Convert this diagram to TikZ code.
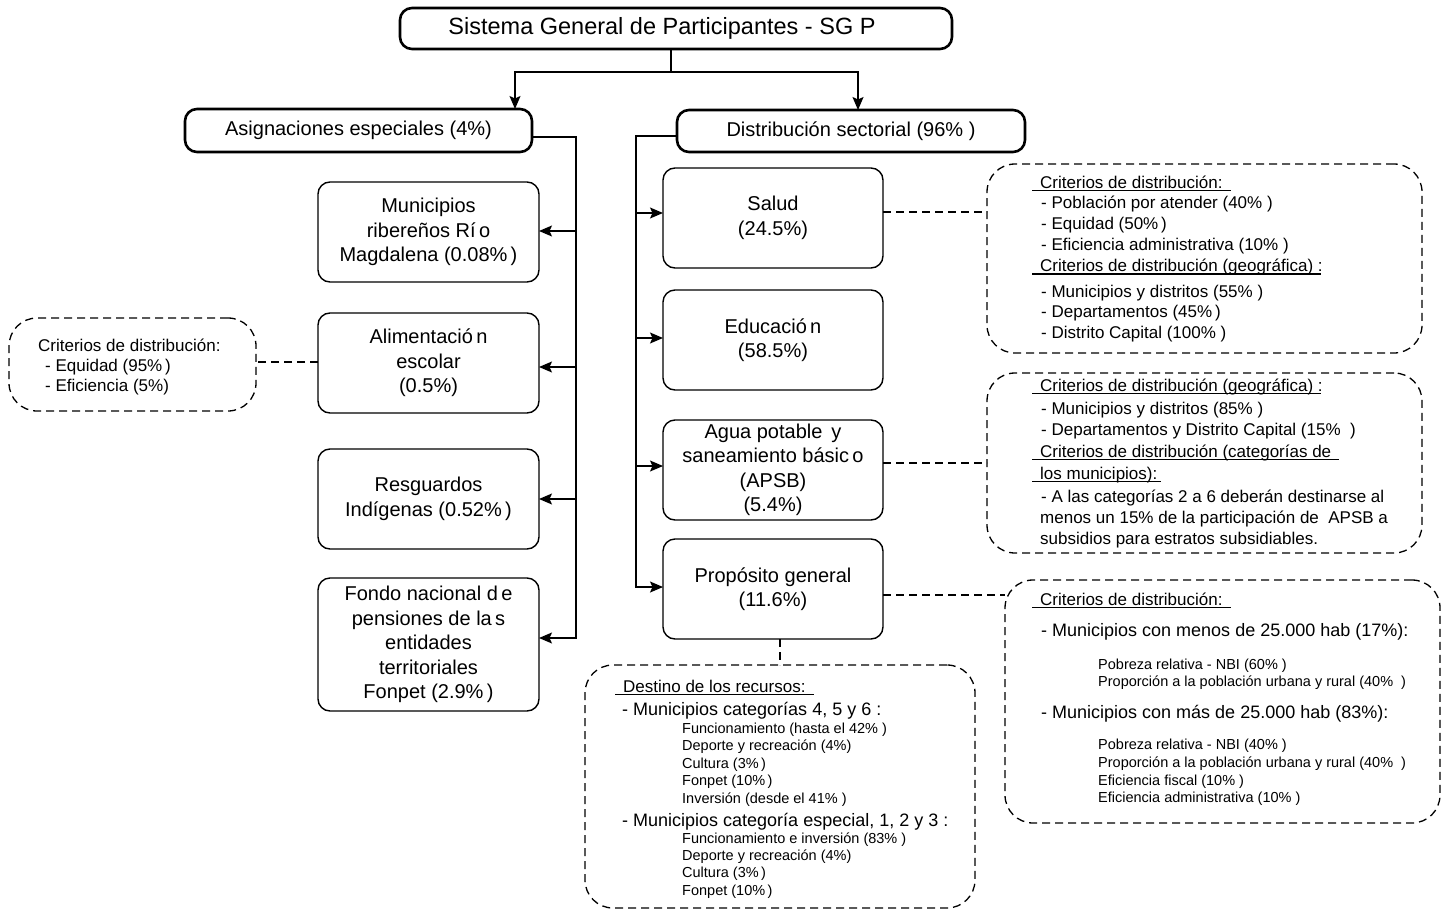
\documentclass[tikz,border=0pt]{standalone}
\usepackage{fontspec}
\setmainfont{Liberation Sans}
\usetikzlibrary{arrows.meta,calc}

% underlined heading: the rule runs a little past both ends of the text
\newsavebox\ulbox
\newcommand\ulh[1]{\sbox\ulbox{#1}\rlap{\kern-8pt\rule[-3pt]{\dimexpr\wd\ulbox+16pt\relax}{1.1pt}}\usebox\ulbox}

\tikzset{
  box/.style={draw, rounded corners=12pt, line width=1.4pt, align=center,
    font=\fontsize{20}{24.5}\selectfont, inner sep=0pt, outer sep=0pt},
  headbox/.style={box, line width=2.6pt},
  critbox/.style={draw, dash pattern=on 8pt off 5pt, rounded corners=28pt,
    line width=1.3pt, inner sep=0pt, outer sep=0pt},
  link/.style={line width=1.4pt, -{Stealth[length=13pt,width=11pt,inset=2.5pt]}},
  plain/.style={line width=1.4pt},
  dl/.style={line width=1.3pt, dash pattern=on 8pt off 5pt},
  tmid/.style={anchor=base west, inner sep=0pt, font=\fontsize{17}{20}\selectfont},
  tbig/.style={anchor=base west, inner sep=0pt, font=\fontsize{18}{21}\selectfont},
  tsmall/.style={anchor=base west, inner sep=0pt, font=\fontsize{14.5}{17}\selectfont},
}

\begin{document}
\begin{tikzpicture}[x=1pt, y=-1pt]
\fill[white] (0,0) rectangle (1448,910);
\useasboundingbox (0,0) rectangle (1448,910);

% ---- top level
\node[headbox, minimum width=552pt, minimum height=41pt, font=\fontsize{23.5}{27}\selectfont]
  (sgp) at (676,28.5) {Sistema General de Participantes - SG P\hspace*{28pt}};
\node[headbox, minimum width=347pt, minimum height=43pt] (asig) at (358.5,130.5)
  {Asignaciones especiales (4\%)};
\node[headbox, minimum width=348pt, minimum height=42pt] (dist) at (851,131)
  {Distribución sectorial (96\% )};

% ---- special allocations
\node[box, minimum width=221pt, minimum height=100pt] (mun) at (428.5,232)
  {Municipios\\ribereños Rí\,o\\Magdalena (0.08\%\,)};
\node[box, minimum width=221pt, minimum height=100pt] (ali) at (428.5,363)
  {Alimentació\,n\\escolar\\(0.5\%)};
\node[box, minimum width=221pt, minimum height=100pt] (res) at (428.5,499)
  {Resguardos\\Indígenas (0.52\%\,)};
\node[box, minimum width=221pt, minimum height=133pt] (fon) at (428.5,644.5)
  {Fondo nacional d\,e\\pensiones de la\,s\\entidades\\territoriales\\Fonpet (2.9\%\,)};

% ---- sectors
\node[box, minimum width=220pt, minimum height=100pt] (sal) at (773,218)
  {Salud\\(24.5\%)};
\node[box, minimum width=220pt, minimum height=100pt] (edu) at (773,340)
  {Educació\,n\\(58.5\%)};
\node[box, minimum width=220pt, minimum height=100pt] (agu) at (773,470)
  {Agua potable\, y\\saneamiento básic\,o\\(APSB)\\(5.4\%)};
\node[box, minimum width=220pt, minimum height=100pt] (pro) at (773,589)
  {Propósito general\\(11.6\%)};

% ---- criteria boxes
\node[critbox, minimum width=247pt, minimum height=93pt] (c0) at (132.5,364.5) {};
\node[critbox, minimum width=435pt, minimum height=189pt] (c1) at (1204.5,258.5) {};
\node[critbox, minimum width=435pt, minimum height=180pt] (c2) at (1204.5,463) {};
\node[critbox, minimum width=435pt, minimum height=243pt] (c3) at (1222.5,701.5) {};
\node[critbox, minimum width=390pt, minimum height=243pt] (c4) at (780,786.5) {};

% ---- top split
\coordinate (split) at (671,72);
\coordinate (ta) at (515,72);
\coordinate (tb) at (858,72);
\draw[plain] (sgp.south -| split) -- (split);
\draw[link] (split) -- (ta) -- (ta |- asig.north);
\draw[link] (split) -- (tb) -- (tb |- dist.north);

% ---- left bus
\coordinate (lb) at (576,137);
\draw[link] (asig.east |- lb) -- (lb) |- (fon.east |- 0,638);
\draw[link] (lb |- 0,231) -- (mun.east |- 0,231);
\draw[link] (lb |- 0,367) -- (ali.east |- 0,367);
\draw[link] (lb |- 0,499) -- (res.east |- 0,499);

% ---- right bus
\coordinate (rb) at (636,136);
\draw[link] (dist.west |- rb) -- (rb) |- (pro.west |- 0,587);
\draw[link] (rb |- 0,213) -- (sal.west |- 0,213);
\draw[link] (rb |- 0,338) -- (edu.west |- 0,338);
\draw[link] (rb |- 0,466) -- (agu.west |- 0,466);

% ---- dashed links to the criteria
\draw[dl] (ali.west |- 0,362) -- (c0.east |- 0,362);
\draw[dl] (sal.east |- 0,212) -- (c1.west |- 0,212);
\draw[dl] (agu.east |- 0,463) -- (c2.west |- 0,463);
\draw[dl] (pro.east |- 0,595) -- (c3.west |- 0,595);
\draw[dl] (pro.south -| 780,0) -- (c4.north -| 780,0);

% ---- texts: school feeding criteria
\node[tmid] (c0a) at (38,351) {Criterios de distribución:};
\node[tmid] (c0b) at (45,371) {- Equidad (95\%\,)};
\node[tmid] (c0c) at (45,391) {- Eficiencia (5\%)};

% ---- texts: health criteria
\node[tmid] (c1a) at (1040,188) {\ulh{Criterios de distribución:}};
\node[tmid] (c1b) at (1041,208.5) {- Población por atender (40\% )};
\node[tmid] (c1c) at (1041,229) {- Equidad (50\%\,)};
\node[tmid] (c1d) at (1041,250) {- Eficiencia administrativa (10\% )};
\node[tmid] (c1e) at (1040,271.5) {\ulh{Criterios de distribución (geográfica)} :};
\node[tmid] (c1f) at (1041,297) {- Municipios y distritos (55\% )};
\node[tmid] (c1g) at (1041,317.5) {- Departamentos (45\%\,)};
\node[tmid] (c1h) at (1041,338) {- Distrito Capital (100\% )};

% ---- texts: water criteria
\node[tmid] (c2a) at (1040,391) {\ulh{Criterios de distribución (geográfica)} :};
\node[tmid] (c2b) at (1041,414) {- Municipios y distritos (85\% )};
\node[tmid] (c2c) at (1041,435.5) {- Departamentos y Distrito Capital (15\%~ )};
\node[tmid] (c2d) at (1040,457) {\ulh{Criterios de distribución (categorías de}};
\node[tmid] (c2e) at (1040,479) {\ulh{los municipios)}:};
\node[tmid] (c2f) at (1041,502) {- A las categorías 2 a 6 deberán destinarse al};
\node[tmid] (c2g) at (1040,523) {menos un 15\% de la participación de~ APSB a};
\node[tmid] (c2h) at (1040,544.5) {subsidios para estratos subsidiables.};

% ---- texts: general purpose criteria
\node[tmid] (c3a) at (1040,605) {\ulh{Criterios de distribución:}};
\node[tbig] (c3b) at (1041,636.5) {- Municipios con menos de 25.000 hab (17\%):};
\node[tsmall] (c3c) at (1098,669) {Pobreza relativa - NBI (60\% )};
\node[tsmall] (c3d) at (1098,686.5) {Proporción a la población urbana y rural (40\%~ )};
\node[tbig] (c3e) at (1041,718) {- Municipios con más de 25.000 hab (83\%):};
\node[tsmall] (c3f) at (1098,749) {Pobreza relativa - NBI (40\% )};
\node[tsmall] (c3g) at (1098,767.5) {Proporción a la población urbana y rural (40\%~ )};
\node[tsmall] (c3h) at (1098,785) {Eficiencia fiscal (10\% )};
\node[tsmall] (c3i) at (1098,802.5) {Eficiencia administrativa (10\% )};

% ---- texts: use of the resources
\node[tmid] (c4a) at (623,692) {\ulh{Destino de los recursos:}};
\node[tbig] (c4b) at (622,715) {- Municipios categorías 4, 5 y 6 :};
\node[tsmall] (c4c) at (682,733) {Funcionamiento (hasta el 42\% )};
\node[tsmall] (c4d) at (682,750.5) {Deporte y recreación (4\%)};
\node[tsmall] (c4e) at (682,768) {Cultura (3\%\,)};
\node[tsmall] (c4f) at (682,785.5) {Fonpet (10\%\,)};
\node[tsmall] (c4g) at (682,803) {Inversión (desde el 41\% )};
\node[tbig] (c4h) at (622,826.5) {- Municipios categoría especial, 1, 2 y 3 :};
\node[tsmall] (c4i) at (682,843) {Funcionamiento e inversión (83\% )};
\node[tsmall] (c4j) at (682,860) {Deporte y recreación (4\%)};
\node[tsmall] (c4k) at (682,877.5) {Cultura (3\%\,)};
\node[tsmall] (c4l) at (682,895) {Fonpet (10\%\,)};

\end{tikzpicture}
\end{document}
